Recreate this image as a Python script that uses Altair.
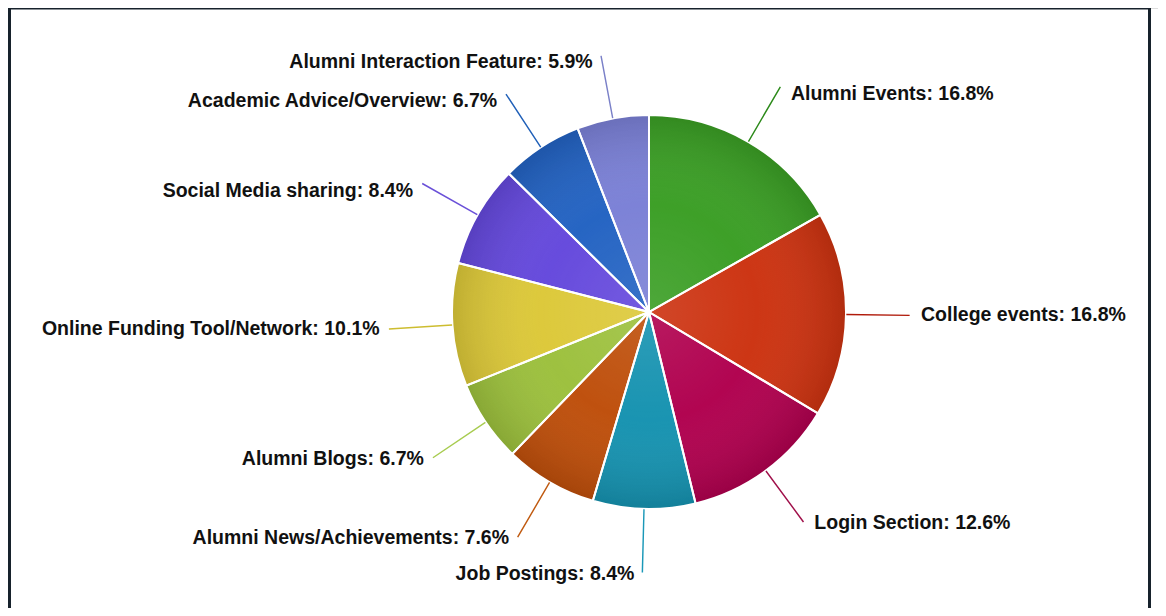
import altair as alt
import pandas as pd

categories = [
    "Alumni Events",
    "College events",
    "Login Section",
    "Job Postings",
    "Alumni News/Achievements",
    "Alumni Blogs",
    "Online Funding Tool/Network",
    "Social Media sharing",
    "Academic Advice/Overview",
    "Alumni Interaction Feature",
]
shares = [16.8, 16.8, 12.6, 8.4, 7.6, 6.7, 10.1, 8.4, 6.7, 5.9]
fill_colors = [
    "#3a9e24", "#cc3210", "#b0004e", "#1592b0", "#be4e0a",
    "#9cc03c", "#dcc838", "#6448dc", "#2262c2", "#7a80d6",
]
line_colors = [
    "#2c8a1a", "#b01a0a", "#a0104a", "#1a98b8", "#c05a10",
    "#a8cc50", "#cdbd30", "#6a50d8", "#2060b8", "#7a80c8",
]

df = pd.DataFrame({
    "category": categories,
    "share": shares,
    "order": list(range(len(categories))),
    "label": [f"{c}: {v}%" for c, v in zip(categories, shares)],
})

CX, CY, R = 641, 304, 197
theta_scale = alt.Scale(domain=[0, 100])

base = alt.Chart(df).transform_window(
    cum="sum(share)", sort=[alt.SortField("order")]
).transform_calculate(
    start="datum.cum - datum.share",
    end="datum.cum",
    mid="datum.cum - datum.share / 2",
    mid2="datum.cum - datum.share / 2 + 0.01",
)

slices = base.mark_arc(x=CX, y=CY, outerRadius=R).encode(
    theta=alt.Theta("start:Q", scale=theta_scale),
    theta2="end:Q",
    color=alt.Color("category:N", scale=alt.Scale(domain=categories, range=fill_colors), legend=None),
)

shade = alt.Chart(pd.DataFrame({"a": [0]})).mark_arc(
    x=CX, y=CY, outerRadius=R,
    fill={
        "gradient": "radial",
        "x1": 0.5, "y1": 0.5, "r1": 0,
        "x2": 0.5, "y2": 0.5, "r2": 0.5,
        "stops": [
            {"offset": 0, "color": "rgba(255,255,255,0.10)"},
            {"offset": 0.55, "color": "rgba(255,255,255,0.02)"},
            {"offset": 1, "color": "rgba(0,0,0,0.13)"},
        ],
    },
).encode(theta=alt.value(0), theta2=alt.value(6.2832))

separators = base.mark_arc(
    x=CX, y=CY, outerRadius=R, fillOpacity=0, stroke="white", strokeWidth=2
).encode(
    theta=alt.Theta("start:Q", scale=theta_scale),
    theta2="end:Q",
)

connectors = base.mark_arc(
    x=CX, y=CY, outerRadius=260, innerRadius=R + 1, fillOpacity=0, strokeWidth=1.3
).encode(
    theta=alt.Theta("mid:Q", scale=theta_scale),
    theta2="mid2:Q",
    stroke=alt.Stroke("category:N", scale=alt.Scale(domain=categories, range=line_colors), legend=None),
)

text_style = dict(x=CX, y=CY, radius=262, font="Liberation Sans", fontSize=19.5,
                  fontWeight="bold", color="#111111", baseline="middle")


def label_layer(cond, align, dx, dy):
    return base.transform_filter(cond).mark_text(
        align=align, dx=dx, dy=dy, **text_style
    ).encode(theta=alt.Theta("mid:Q", scale=theta_scale), text="label:N")


upper = "(datum.mid < 25 || datum.mid > 75)"
labels = [
    label_layer(f"datum.mid < 50 && {upper}", "left", 10, 8),
    label_layer(f"datum.mid < 50 && !{upper}", "left", 10, 0),
    label_layer(f"datum.mid >= 50 && {upper}", "right", -8, 8),
    label_layer(f"datum.mid >= 50 && !{upper}", "right", -8, 0),
]

frame = alt.Chart(pd.DataFrame({"a": [0]})).mark_rect(
    fillOpacity=0, stroke="#17222c", strokeWidth=3
).encode(
    x=alt.value(1.5), x2=alt.value(1141.5), y=alt.value(0), y2=alt.value(700)
)

chart = alt.layer(
    slices, shade, separators, connectors, *labels, frame
).properties(
    width=1150, height=600, padding=0, autosize=alt.AutoSizeParams(type="none")
).configure_view(strokeOpacity=0).configure(background="white")

chart.save("out.html", embed_options={"renderer": "svg", "actions": False})
